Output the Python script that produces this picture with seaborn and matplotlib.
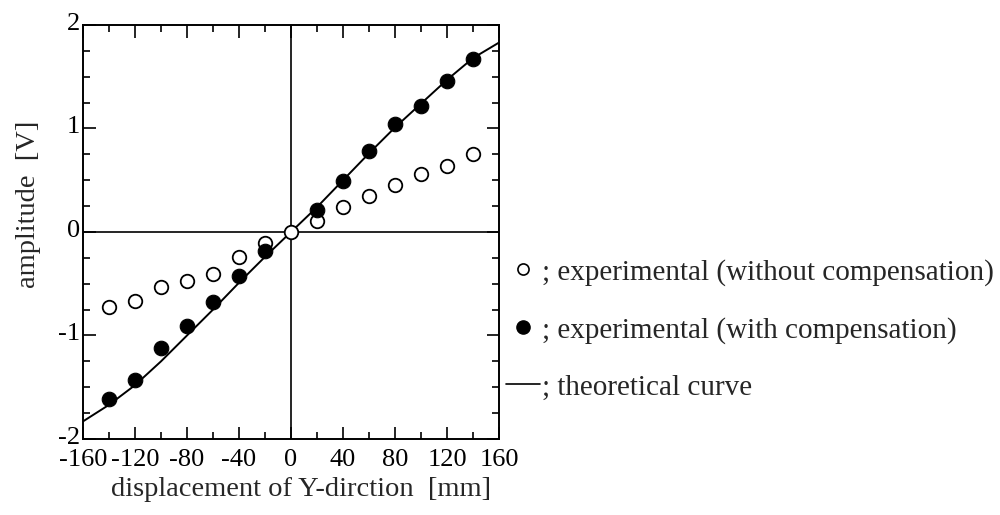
"""Amplitude vs displacement: experimental points and theoretical curve."""

import matplotlib

matplotlib.use("Agg")
import matplotlib.pyplot as plt
import matplotlib.transforms as mtransforms
from matplotlib.lines import Line2D
from matplotlib.ticker import MultipleLocator
import pandas as pd
import seaborn as sns


# measured points (mm, V)
disp_mm = [-140, -120, -100, -80, -60, -40, -20, 0, 20, 40, 60, 80, 100, 120, 140]
amp_without = [-0.72, -0.665, -0.535, -0.47, -0.41, -0.24, -0.107, 0.0,
               0.11, 0.24, 0.345, 0.45, 0.56, 0.636, 0.75]
comp_mm = [-140, -120, -100, -80, -60, -40, -20, 20, 40, 60, 80, 100, 120, 140]
amp_with = [-1.614, -1.43, -1.12, -0.91, -0.68, -0.43, -0.18,
            0.21, 0.49, 0.784, 1.04, 1.22, 1.458, 1.67]

# theoretical curve
theory_mm = [-160, -140, -120, -100, -80, -60, -40, -20, 0,
             20, 40, 60, 80, 100, 120, 140, 160]
theory_amp = [-1.83, -1.67, -1.48, -1.25, -1.00, -0.75, -0.49, -0.24, 0.0,
              0.24, 0.50, 0.76, 1.01, 1.24, 1.47, 1.68, 1.83]

x_ticks = [-160, -120, -80, -40, 0, 40, 80, 120, 160]
y_ticks = [-2, -1, 0, 1, 2]

legend_labels = [
    "; experimental (without compensation)",
    "; experimental (with compensation)",
    "; theoretical curve",
]


sns.set_style("ticks")
plt.rcParams["font.family"] = ["Liberation Serif", "DejaVu Serif"]

fig = plt.figure(figsize=(10, 5.15), dpi=100)
ax = fig.add_axes([0.083, 0.1476, 0.416, 0.8039])

ax.axhline(0, color="black", linewidth=1.2, zorder=1)
ax.axvline(0, color="black", linewidth=1.2, zorder=1)

theory = pd.DataFrame({"x": theory_mm, "y": theory_amp})
sns.lineplot(data=theory, x="x", y="y", color="black", linewidth=1.4,
             ax=ax, zorder=2)

open_pts = pd.DataFrame({"x": disp_mm, "y": amp_without})
sns.scatterplot(data=open_pts, x="x", y="y", s=95, facecolor="white",
                edgecolor="black", linewidth=1.3, ax=ax, zorder=3)

filled_pts = pd.DataFrame({"x": comp_mm, "y": amp_with})
sns.scatterplot(data=filled_pts, x="x", y="y", s=110, color="black",
                edgecolor="black", linewidth=0.8, ax=ax, zorder=3)

ax.set_xlim(-160, 160)
ax.set_ylim(-2, 2)
ax.set_xticks(x_ticks)
ax.set_xticklabels([str(v) for v in x_ticks])
ax.set_yticks(y_ticks)
ax.set_yticklabels([str(v) for v in y_ticks])
ax.xaxis.set_minor_locator(MultipleLocator(20))
ax.yaxis.set_minor_locator(MultipleLocator(0.25))
ax.tick_params(which="both", direction="in", top=True, right=True,
               width=1.2, colors="black", labelsize=19)
ax.tick_params(which="major", length=9)
ax.tick_params(which="minor", length=5)
ax.tick_params(axis="x", which="major", pad=7)
ax.tick_params(axis="y", which="major", pad=2)
# y labels sit a touch high in the original
shift = mtransforms.ScaledTranslation(0, 3.5 / 100, fig.dpi_scale_trans)
for lbl in ax.get_yticklabels():
    lbl.set_transform(lbl.get_transform() + shift)
for spine in ax.spines.values():
    spine.set_visible(True)
    spine.set_linewidth(1.4)
    spine.set_color("black")

ax.set_xlabel("displacement of Y-dirction  [mm]", fontsize=20.5)
ax.set_ylabel("amplitude  [V]", fontsize=20.5)
ax.xaxis.set_label_coords(0.524, -0.092)
ax.yaxis.set_label_coords(-0.101, 0.568)

handles = [
    Line2D([], [], linestyle="none", marker="o", markersize=8,
           markerfacecolor="white", markeredgecolor="black", markeredgewidth=1.2),
    Line2D([], [], linestyle="none", marker="o", markersize=9.5,
           markerfacecolor="black", markeredgecolor="black"),
    Line2D([], [], color="black", linewidth=1.2),
]
fig.legend(handles, legend_labels, loc="upper left",
           bbox_to_anchor=(0.506, 1 - 259 / 515), frameon=False,
           fontsize=21, handlelength=1.15, handletextpad=0.1,
           labelspacing=1.05, borderpad=0, borderaxespad=0)

fig.savefig("out.png", dpi=100, facecolor="white")
plt.close(fig)
